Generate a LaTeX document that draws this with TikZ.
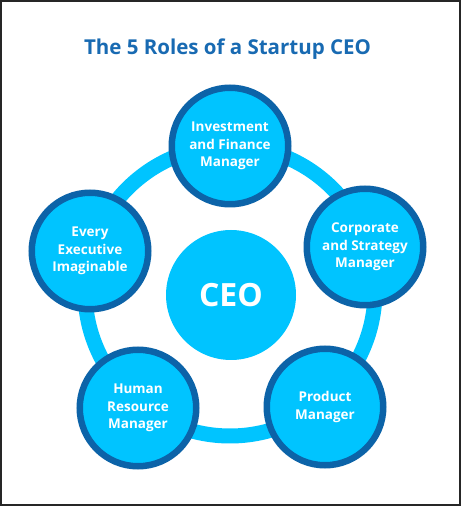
\documentclass[tikz,border=0pt]{standalone}
\usepackage{fontspec}
\setmainfont{Open Sans}
\definecolor{ringblue}{RGB}{0,196,255}
\definecolor{edgeblue}{RGB}{12,99,168}
\definecolor{titleblue}{RGB}{24,106,178}
\tikzstyle{role} = [circle,draw=edgeblue,line width=6.5pt,fill=ringblue,minimum size=116.5pt,inner sep=0pt,text=white,align=center,font=\bfseries\fontsize{13.5}{17.5}\selectfont]
\tikzstyle{chief} = [circle,fill=ringblue,minimum size=130pt,inner sep=0pt,text=white,font=\bfseries\fontsize{32}{34}\selectfont]
\tikzstyle{heading} = [anchor=base,text=titleblue,font=\bfseries\fontsize{20.5}{23}\selectfont]
\begin{document}
\begin{tikzpicture}[x=1pt,y=1pt]
\useasboundingbox (0,0) rectangle (461,506);
\draw[line width=2pt,black!85] (1,1) rectangle (460,505);
\node[heading] (title) at (227.5,451) {The 5 Roles of a Startup CEO};
% ring behind the roles
\coordinate (hub) at (230,215);
\draw[ringblue,line width=15pt] (hub) circle[radius=145pt];
\node[chief] (ceo) at (231,211) {CEO};
\foreach \px/\py/\txt [count=\i] in {230/360/{Investment\\and Finance\\Manager},
	365/259/{Corporate\\and Strategy\\Manager},
	325/99/{Product\\Manager},
	138/98/{Human\\Resource\\Manager},
	90/255/{Every\\Executive\\Imaginable}} {
	\node[role] (role\i) at (\px,\py) {\txt};
}
\end{tikzpicture}
\end{document}
